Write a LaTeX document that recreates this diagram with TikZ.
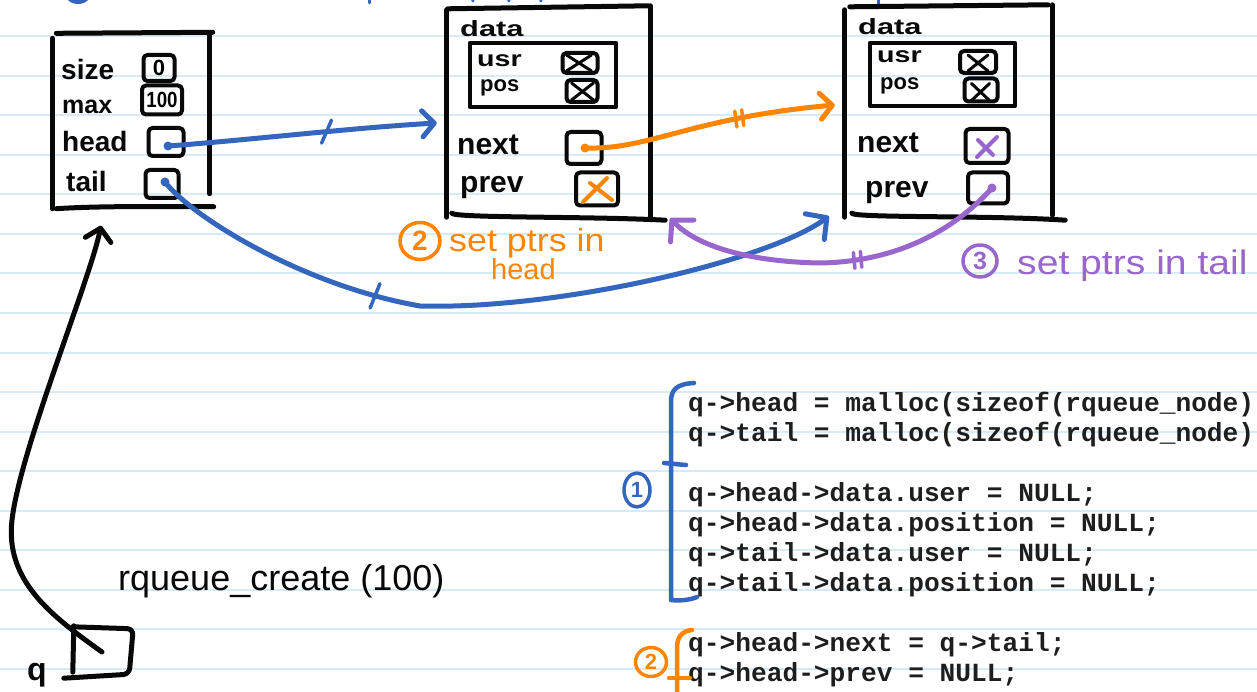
\documentclass[tikz,border=0pt]{standalone}
\usepackage{fontspec}
\usepackage{graphicx}
\setmainfont{Liberation Sans}
\newfontfamily\codefont{Liberation Mono}
\usetikzlibrary{arrows.meta,calc,decorations.markings,shapes.geometric}

\definecolor{inkblue}{RGB}{52,102,190}
\definecolor{inkorange}{RGB}{255,133,0}
\definecolor{inkpurple}{RGB}{152,102,204}
\definecolor{ink}{RGB}{8,8,8}
\definecolor{rulecol}{RGB}{214,234,248}
\definecolor{codeink}{RGB}{30,30,30}

\begin{document}
\begin{tikzpicture}[x=1pt, y=-1pt, line cap=round, line join=round,
  paperline/.style={draw=rulecol, line width=2pt},
  frame/.style={draw=ink, line width=5pt},
  cell/.style={draw=ink, line width=4pt, rounded corners=4pt, inner sep=0pt},
  inbox/.style={draw=ink, line width=4.2pt, inner sep=0pt},
  lbl/.style={text=ink, inner sep=0pt, anchor=base west, font=\bfseries\fontsize{28}{28}\selectfont},
  fld/.style={text=ink, inner sep=0pt, anchor=base west, font=\bfseries\fontsize{30}{30}\selectfont},
  sub/.style={text=ink, inner sep=0pt, anchor=base west, font=\bfseries\fontsize{22}{22}\selectfont},
  cellnum/.style={font=\bfseries\fontsize{22}{22}\selectfont},
  cross/.style={draw=ink, line width=3pt},
  wire/.style={line width=5pt},
  barb/.style={-{Straight Barb[length=12pt,width=26pt,round]}},
  bigbarb/.style={-{Straight Barb[length=15pt,width=32pt,round]}},
  circled/.style={ellipse, draw, line width=3.5pt, inner sep=0pt, font=\bfseries\fontsize{28}{28}\selectfont},
  note/.style={inner sep=0pt, anchor=base west},
  code/.style={text=codeink, inner sep=0pt, anchor=base west, font=\codefont\bfseries\fontsize{26.2}{26.2}\selectfont},
  onetick/.style={postaction={decorate, decoration={markings,
      mark=at position #1 with {\draw[-, line width=3.5pt] (-6pt,-11pt) -- (6pt,11pt);}}}},
  flattick/.style={postaction={decorate, decoration={markings,
      mark=at position #1 with {\draw[-, line width=3.5pt] (-1.5pt,-13pt) -- (1.5pt,13pt);}}}},
  twotick/.style={postaction={decorate, decoration={markings,
      mark=at position #1 with {\draw[-, line width=3.5pt] (-4pt,-8pt) -- (-3pt,8pt);
                                \draw[-, line width=3.5pt] (3pt,-8pt) -- (4pt,8pt);}}}}
]
% page and ruled paper
\fill[white] (0,0) rectangle (1257,692);
\useasboundingbox (0,0) rectangle (1257,692);
\foreach \k in {0,...,16} {
  \draw[paperline] (0,{36.5+39.5*\k}) -- (1257,{36.5+39.5*\k});
}

% strokes of the heading that runs above the page edge
\draw[inkblue, line width=4pt] (78,-12) circle (14pt);
\draw[inkblue, line width=3pt] (369,-6) -- (369,3);
\draw[inkblue, line width=3pt] (472,-6) -- (473,1);
\draw[inkblue, line width=3pt] (508,-6) -- (509,1);
\draw[inkblue, line width=3pt] (540,-6) -- (541,1);
\draw[inkblue, line width=3pt] (878,-6) -- (878,5);

% ---------------- queue struct ----------------
\node[minimum width=157pt, minimum height=175pt, inner sep=0pt] (Q) at (131,121) {};
\draw[frame] ($(Q.north west)+(4,0)$) -- ($(Q.north east)+(3,-1)$);
\draw[frame] ($(Q.north west)+(0,5)$) -- (Q.south west);
\draw[frame] (Q.north east) -- ($(Q.south east)+(0,-15)$);
\draw[frame] ($(Q.south west)+(4,0)$) .. controls ($(Q.south west)+(50,-3)$) and ($(Q.south east)+(-40,-2)$) .. ($(Q.south east)+(4,-2)$);

\node[lbl] (Lsize) at (61,80) {size};
\node[lbl] (Lmax) at (62,114) {\fontsize{25}{25}\selectfont max};
\node[lbl] (Lhead) at (62,152) {head};
\node[lbl] (Ltail) at (66,192) {tail};

\node[cell, cellnum, minimum width=31pt, minimum height=26pt] (Qsize) at (159,68) {0};
\node[cell, cellnum, minimum width=40pt, minimum height=29pt] (Qmax) at (162,100) {\scalebox{0.85}[1]{100}};
\node[cell, minimum width=35pt, minimum height=28pt] (Qhead) at (166,142) {};
\node[cell, minimum width=33pt, minimum height=28pt] (Qtail) at (162,184) {};
\coordinate (hdot) at ($(Qhead.center)+(2,4)$);
\coordinate (tdot) at ($(Qtail.center)+(3,-2)$);

% ---------------- head node ----------------
\node[minimum width=203pt, minimum height=208pt, inner sep=0pt] (H) at (548.5,112) {};
\draw[frame] ($(H.north west)+(1,1)$) -- ($(H.north east)+(-2,-2)$);
\draw[frame] ($(H.north west)+(0,2)$) -- ($(H.south west)+(0,1)$);
\draw[frame] ($(H.north east)+(0,-2)$) -- ($(H.south east)+(0,1)$);
\draw[frame] ($(H.south west)+(5,-3)$) .. controls ($(H.south west)+(8,2)$) and ($(H.south east)+(-60,0)$) .. ($(H.south east)+(15,4)$);

\node[sub] (Hdata) at (460,37) {\scalebox{1.4}[1]{data}};
\node[inbox, minimum width=146pt, minimum height=64pt] (Hd) at (543,75) {};
\node[sub] (Husr) at (477,67) {\scalebox{1.3}[1]{usr}};
\node[sub] (Hpos) at (480,92) {pos};
\node[cell, minimum width=35pt, minimum height=20pt] (Hu) at (580,63) {};
\node[cell, minimum width=31pt, minimum height=22pt] (Hp) at (582,91) {};
\draw[cross] ($(Hu.north west)+(6,4)$) -- ($(Hu.south east)+(-8,-4)$);
\draw[cross] ($(Hu.south west)+(6,-4)$) -- ($(Hu.north east)+(-8,4)$);
\draw[cross] ($(Hp.north west)+(7,5)$) -- ($(Hp.south east)+(-6,-4)$);
\draw[cross] ($(Hp.south west)+(7,-4)$) -- ($(Hp.north east)+(-6,5)$);

\node[fld] (Hnext) at (457,155) {next};
\node[fld] (Hprev) at (460,193) {prev};
\node[cell, minimum width=35pt, minimum height=32pt] (Hn) at (584,148) {};
\node[cell, minimum width=42pt, minimum height=33pt] (Hv) at (597,189) {};
\draw[inkorange, line width=4pt] ($(Hv.center)+(-14,13)$) -- ($(Hv.center)+(10,-11)$);
\draw[inkorange, line width=4pt] ($(Hv.center)+(-7,-6)$) -- ($(Hv.center)+(15,11)$);
\coordinate (odot) at ($(Hn.center)+(1,0)$);

% ---------------- tail node ----------------
\node[minimum width=207pt, minimum height=209pt, inner sep=0pt] (T) at (948.5,110.5) {};
\draw[frame] ($(T.north west)+(5,1)$) -- ($(T.north east)+(-4,-1)$);
\draw[frame] ($(T.north west)+(0,4)$) -- ($(T.south west)+(0,2)$);
\draw[frame] ($(T.north east)+(0,-1)$) -- (T.south east);
\draw[frame] ($(T.south west)+(7,-2)$) .. controls ($(T.south west)+(10,3)$) and ($(T.south east)+(-60,0)$) .. ($(T.south east)+(13,5)$);

\node[sub] (Tdata) at (858,35) {\scalebox{1.4}[1]{data}};
\node[inbox, minimum width=145pt, minimum height=63pt] (Td) at (942.5,74.5) {};
\node[sub] (Tusr) at (877,63) {\scalebox{1.3}[1]{usr}};
\node[sub] (Tpos) at (880,90) {pos};
\node[cell, minimum width=36pt, minimum height=22pt] (Tu) at (978,62) {};
\node[cell, minimum width=33pt, minimum height=23pt] (Tp) at (981,90) {};
\draw[cross] ($(Tu.north west)+(10,6)$) -- ($(Tu.south east)+(-10,-4)$);
\draw[cross] ($(Tu.south west)+(10,-4)$) -- ($(Tu.north east)+(-10,6)$);
\draw[cross] ($(Tp.north west)+(9,7)$) -- ($(Tp.south east)+(-10,-3)$);
\draw[cross] ($(Tp.south west)+(9,-3)$) -- ($(Tp.north east)+(-10,7)$);

\node[fld] (Tnext) at (857,153) {next};
\node[fld] (Tprev) at (865,198) {prev};
\node[cell, minimum width=43pt, minimum height=34pt] (Tn) at (987,146) {};
\node[cell, minimum width=40pt, minimum height=31pt] (Tv) at (988,188) {};
\draw[inkpurple, line width=4pt] ($(Tn.center)+(-10,11)$) -- ($(Tn.center)+(10,-9)$);
\draw[inkpurple, line width=4pt] ($(Tn.center)+(-9,-6)$) -- ($(Tn.center)+(6,9)$);
\coordinate (pdot) at ($(Tv.center)+(4,0)$);

% ---------------- arrow ends ----------------
\coordinate (Hin) at ($(H.west)+(-10,11)$);
\coordinate (Tin) at ($(T.west)+(-10,-5.5)$);
\coordinate (Tlow) at ($(T.south west)+(-16,1)$);
\coordinate (Hlow) at ($(H.south east)+(20,2)$);
\coordinate (Qin) at ($(Q.south)+(-30,17)$);

% head pointer
\draw[wire, inkblue, barb, onetick=0.59] (hdot) .. controls +(82,-6) and +(-87,5) .. (Hin);
\fill[inkblue] (hdot) circle (4.5pt);
% tail pointer
\draw[wire, inkblue, bigbarb, flattick=0.34] (tdot) .. controls (190,215) and (300,285) .. (420,306)
      .. controls (560,310) and (770,260) .. (Tlow);
\fill[inkblue] (tdot) circle (4.5pt);
% head->next
\draw[wire, inkorange, barb, twotick=0.62] (odot) .. controls +(65,2) and +(-145,13) .. (Tin);
\fill[inkorange] (odot) circle (4.5pt);
% tail->prev
\draw[wire, inkpurple, bigbarb, twotick=0.44] (pdot) .. controls (950,235) and (890,262) .. (820,263)
      .. controls (760,262) and (700,250) .. (Hlow);
\fill[inkpurple] (pdot) circle (4.5pt);

% ---------------- variable q ----------------
\node[minimum width=60pt, minimum height=48pt, inner sep=0pt] (qb) at (102,652) {};
\draw[frame, line width=5pt, rounded corners=6pt] ($(qb.north west)+(1,-1)$) -- ($(qb.north east)+(1,1)$) -- ($(qb.south east)+(-3,-2)$) -- ($(qb.south west)+(-8,2)$);
\draw[frame, line width=5pt] ($(qb.north west)+(2,-2)$) -- ($(qb.south west)+(1,-4)$);
\node[note, text=ink, font=\bfseries\fontsize{32}{32}\selectfont] (qname) at (27,680) {q};
\draw[wire, ink, barb] (qb.center) .. controls (50,615) and (5,580) .. (12,520)
      .. controls (20,450) and (90,280) .. (Qin);
\node[note, text=ink, font=\fontsize{36}{36}\selectfont] (call) at (118,590) {rqueue\_create (100)};

% ---------------- notes ----------------
\node[circled, draw=inkorange, text=inkorange, minimum width=40pt, minimum height=37pt] (c2a) at (420,241) {2};
\node[note, text=inkorange, font=\fontsize{32}{32}\selectfont] (n2a) at (449,252) {\scalebox{1.12}[1]{set ptrs in}};
\node[note, text=inkorange, font=\fontsize{29}{29}\selectfont] (n2b) at (491,280) {head};

\node[circled, draw=inkpurple, text=inkpurple, minimum width=34pt, minimum height=32pt,
      font=\bfseries\fontsize{25}{25}\selectfont] (c3) at (980,261) {3};
\node[note, text=inkpurple, font=\fontsize{34}{34}\selectfont] (n3) at (1017,275) {\scalebox{1.15}[1]{set ptrs in tail}};

% ---------------- code ----------------
\node[code] (r1) at (688,411) {q->head = malloc(sizeof(rqueue\_node)};
\node[code] (r2) at (688,441) {q->tail = malloc(sizeof(rqueue\_node)};
\node[code] (r3) at (688,501) {q->head->data.user = NULL;};
\node[code] (r4) at (688,531) {q->head->data.position = NULL;};
\node[code] (r5) at (688,561) {q->tail->data.user = NULL;};
\node[code] (r6) at (688,591) {q->tail->data.position = NULL;};
\node[code] (r7) at (688,651) {q->head->next = q->tail;};
\node[code] (r8) at (688,681) {q->head->prev = NULL;};

% step brackets
\draw[inkblue, line width=4.5pt] (694,383) .. controls (676,384) and (671,390) .. (671,402) -- (671,600)
      .. controls (680,601) and (690,600) .. (697,597);
\draw[inkblue, line width=4.5pt] (664,463) -- (686,465);
\node[circled, draw=inkblue, text=inkblue, minimum width=26pt, minimum height=34pt,
      font=\bfseries\fontsize{22}{22}\selectfont] (c1) at (637,490) {1};

\draw[inkorange, line width=4.5pt] (692,630) .. controls (681,631) and (677,638) .. (677,648) -- (677,692);
\draw[inkorange, line width=4.5pt] (669,678) -- (690,678);
\node[circled, draw=inkorange, text=inkorange, minimum width=31pt, minimum height=29pt,
      font=\bfseries\fontsize{22}{22}\selectfont] (c2b) at (651,662) {2};
\end{tikzpicture}
\end{document}
